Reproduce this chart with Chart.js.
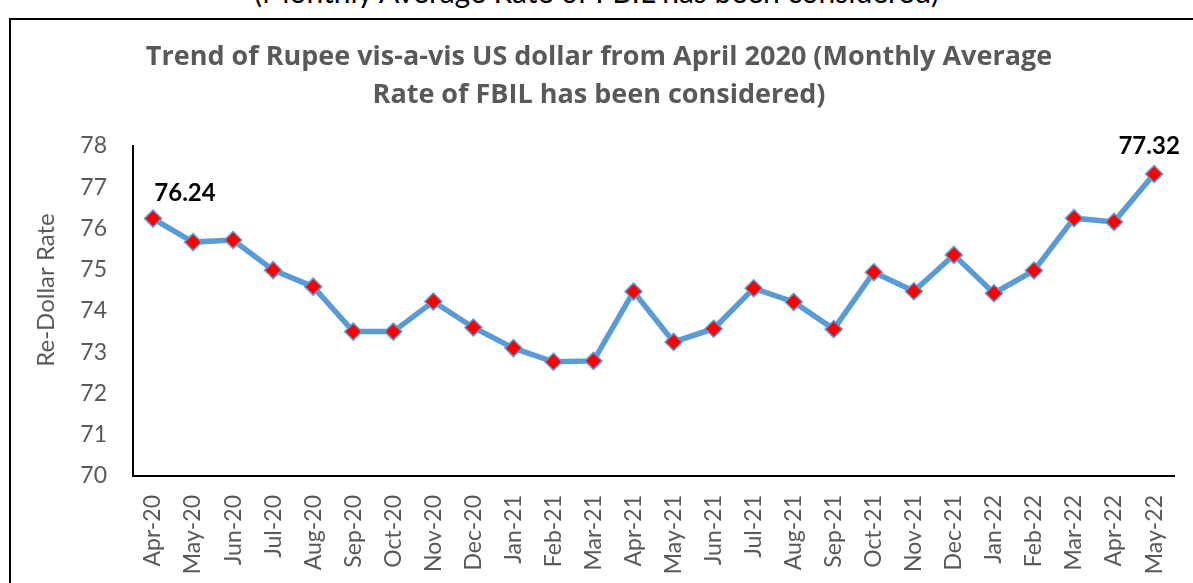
<!DOCTYPE html>
<html>
<head>
<meta charset="utf-8">
<script src="https://cdn.jsdelivr.net/npm/chart.js@4.4.1/dist/chart.umd.min.js"></script>
<style>
  html, body { margin: 0; padding: 0; background: #fff; overflow: hidden; }
  #wrap { position: relative; width: 1193px; height: 583px; }
  #topnote { position: absolute; left: 0; width: 1193px; top: -26px; text-align: center;
    font-family: Lato, "Open Sans", sans-serif; font-size: 30px; color: #000; line-height: 34px; }
  #frame { position: absolute; left: 9px; top: 18px; width: 1200px; height: 600px;
    border: 2px solid #000; box-sizing: border-box; }
  #c { position: absolute; left: 0; top: 0; }
</style>
</head>
<body>
<div id="wrap">
  <div id="topnote">(Monthly Average Rate of FBIL has been considered)</div>
  <div id="frame"></div>
  <canvas id="c" width="1193" height="583"></canvas>
</div>
<script>
const categories = ["Apr-20","May-20","Jun-20","Jul-20","Aug-20","Sep-20","Oct-20","Nov-20","Dec-20",
  "Jan-21","Feb-21","Mar-21","Apr-21","May-21","Jun-21","Jul-21","Aug-21","Sep-21","Oct-21","Nov-21","Dec-21",
  "Jan-22","Feb-22","Mar-22","Apr-22","May-22"];
const rupeeRate = [76.24,75.67,75.72,74.99,74.59,73.50,73.50,74.23,73.60,73.10,72.77,72.79,74.47,73.25,73.57,
  74.55,74.22,73.56,74.94,74.48,75.36,74.43,74.98,76.25,76.16,77.32];
const yTicks = [70,71,72,73,74,75,76,77,78];
const titleLines = ["Trend of Rupee vis-a-vis US dollar from April 2020 (Monthly Average",
  "Rate of FBIL has been considered)"];
const yAxisTitle = "Re-Dollar Rate";
const labeledIndexes = [0, 25];

const extraText = {
  id: 'extraText',
  afterDatasetsDraw(chart) {
    const ctx = chart.ctx;
    const meta = chart.getDatasetMeta(0);
    ctx.save();
    ctx.font = 'bold 24px Lato, "Open Sans", sans-serif';
    ctx.fillStyle = '#000';
    ctx.textBaseline = 'middle';
    ctx.textAlign = 'center';
    labeledIndexes.forEach((i, k) => {
      const p = meta.data[i];
      const txt = rupeeRate[i].toFixed(2);
      if (k === 0) ctx.fillText(txt, p.x + 32, p.y - 25);
      else ctx.fillText(txt, p.x - 5, p.y - 28);
    });
    ctx.restore();
    // y-axis title
    ctx.save();
    ctx.translate(46, 290);
    ctx.rotate(-Math.PI / 2);
    ctx.font = '24px Lato, "Open Sans", sans-serif';
    ctx.fillStyle = '#595959';
    ctx.textAlign = 'center';
    ctx.textBaseline = 'middle';
    ctx.fillText(yAxisTitle, 0, 0);
    ctx.restore();
  }
};

new Chart(document.getElementById('c'), {
  type: 'line',
  data: {
    labels: categories,
    datasets: [{
      data: rupeeRate,
      borderColor: '#5b9bd5',
      borderWidth: 5.5,
      pointStyle: 'rectRot',
      pointRadius: 8.5,
      pointHoverRadius: 8.5,
      pointBackgroundColor: '#ff0000',
      pointBorderColor: '#5b9bd5',
      pointBorderWidth: 1.5,
      tension: 0,
      fill: false
    }]
  },
  options: {
    responsive: false,
    animation: false,
    devicePixelRatio: 1,
    layout: { padding: { top: 20, left: 20, right: 15, bottom: 0 } },
    plugins: {
      legend: { display: false },
      tooltip: { enabled: false },
      title: {
        display: true,
        text: titleLines,
        color: '#595959',
        font: { family: '"Open Sans", Lato, sans-serif', size: 27, weight: 'bold', lineHeight: 1.407 },
        padding: { top: 18, bottom: 32 }
      }
    },
    scales: {
      x: {
        type: 'category',
        offset: true,
        grid: { display: false },
        border: { display: true, color: '#000', width: 2 },
        ticks: {
          color: '#595959',
          font: { family: 'Lato, "Open Sans", sans-serif', size: 23 },
          minRotation: 90, maxRotation: 90, autoSkip: false, padding: 11
        },
        afterFit(s) { s.height = 107; }
      },
      y: {
        min: 70, max: 78,
        grid: { display: false },
        border: { display: true, color: '#000', width: 2 },
        afterBuildTicks(s) { s.ticks = yTicks.map(v => ({ value: v })); },
        ticks: {
          color: '#595959',
          font: { family: 'Lato, "Open Sans", sans-serif', size: 23 },
          padding: 18
        },
        afterFit(s) { s.width = 113; }
      }
    }
  },
  plugins: [extraText]
});
</script>
</body>
</html>
